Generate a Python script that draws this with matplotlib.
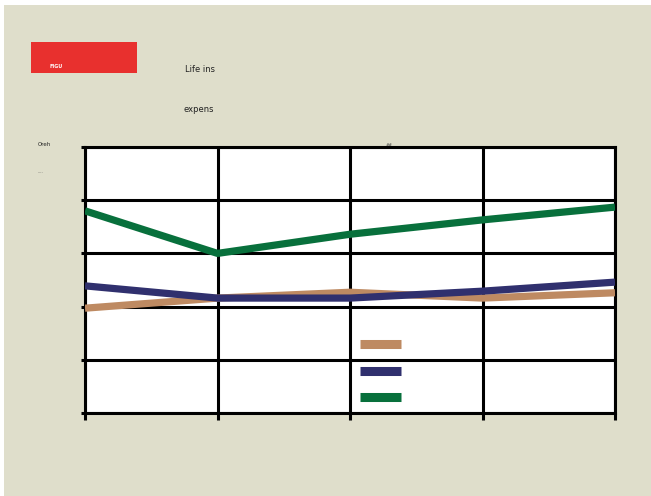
import matplotlib.pyplot as plt
from matplotlib.lines import Line2D
from matplotlib.patches import Rectangle

# values (y axis 0..5, five points per series)
periods = [0, 1, 2, 3, 4]
tan_vals = [1.97, 2.16, 2.27, 2.16, 2.26]
blue_vals = [2.39, 2.16, 2.16, 2.29, 2.46]
green_vals = [3.80, 3.00, 3.36, 3.63, 3.87]
series_colors = ['#be8a62', '#30306e', '#08703c']

bg = '#dfdecb'
W, H = 651, 496

fig = plt.figure(figsize=(W / 100, H / 100), dpi=100)
fig.patch.set_facecolor('white')
fig.patches.append(Rectangle((4 / W, 0), 1, 1 - 5 / H, transform=fig.transFigure,
                             facecolor=bg, edgecolor='none', zorder=-10))

# red header box
fig.patches.append(Rectangle((31 / W, 1 - 73 / H), 106 / W, 31 / H, transform=fig.transFigure,
                             facecolor='#e8302e', edgecolor='none'))
fig.text(49 / W, 1 - 67 / H, 'FIGU', color='white', fontsize=3.5, fontweight='bold', va='center')
fig.text(185 / W, 1 - 70 / H, 'Life ins', color='#222222', fontsize=6, va='center')
fig.text(183 / W, 1 - 110 / H, 'expens', color='#222222', fontsize=6, va='center')
fig.text(38 / W, 1 - 144 / H, 'Oreh', color='#222222', fontsize=4, va='center')
fig.text(38 / W, 1 - 172 / H, '----', color='#555555', fontsize=3, va='center')
fig.text(386 / W, 1 - 145 / H, '##', color='#333333', fontsize=3, va='center')

ax = fig.add_axes([85 / W, (H - 413) / H, 530 / W, 266 / H])
ax.set_facecolor('white')

ax.plot(periods, tan_vals, color=series_colors[0], lw=5.2, solid_capstyle='butt', zorder=3)
ax.plot(periods, blue_vals, color=series_colors[1], lw=5.2, solid_capstyle='butt', zorder=4)
ax.plot(periods, green_vals, color=series_colors[2], lw=5.2, solid_capstyle='butt', zorder=5)

ax.set_xlim(0, 4)
ax.set_ylim(0, 5)
ax.set_xticks(periods)
ax.set_yticks([0, 1, 2, 3, 4, 5])
ax.set_xticklabels([])
ax.set_yticklabels([])
ax.grid(True, color='black', lw=2.2, zorder=1)
ax.set_axisbelow(True)
for s in ax.spines.values():
    s.set_linewidth(2.2)
    s.set_zorder(2)
ax.tick_params(axis='x', length=5, width=2.2, direction='out', color='black')
ax.tick_params(axis='y', length=3, width=2.2, direction='out', color='black')

# legend keys without text
for i, c in enumerate(series_colors):
    yc = 1 - (344 + 26.5 * i) / H
    fig.add_artist(Line2D([360 / W, 401 / W], [yc, yc], transform=fig.transFigure,
                          color=c, lw=6.5, solid_capstyle='butt'))

fig.savefig('out.png', dpi=100, facecolor=fig.get_facecolor())
